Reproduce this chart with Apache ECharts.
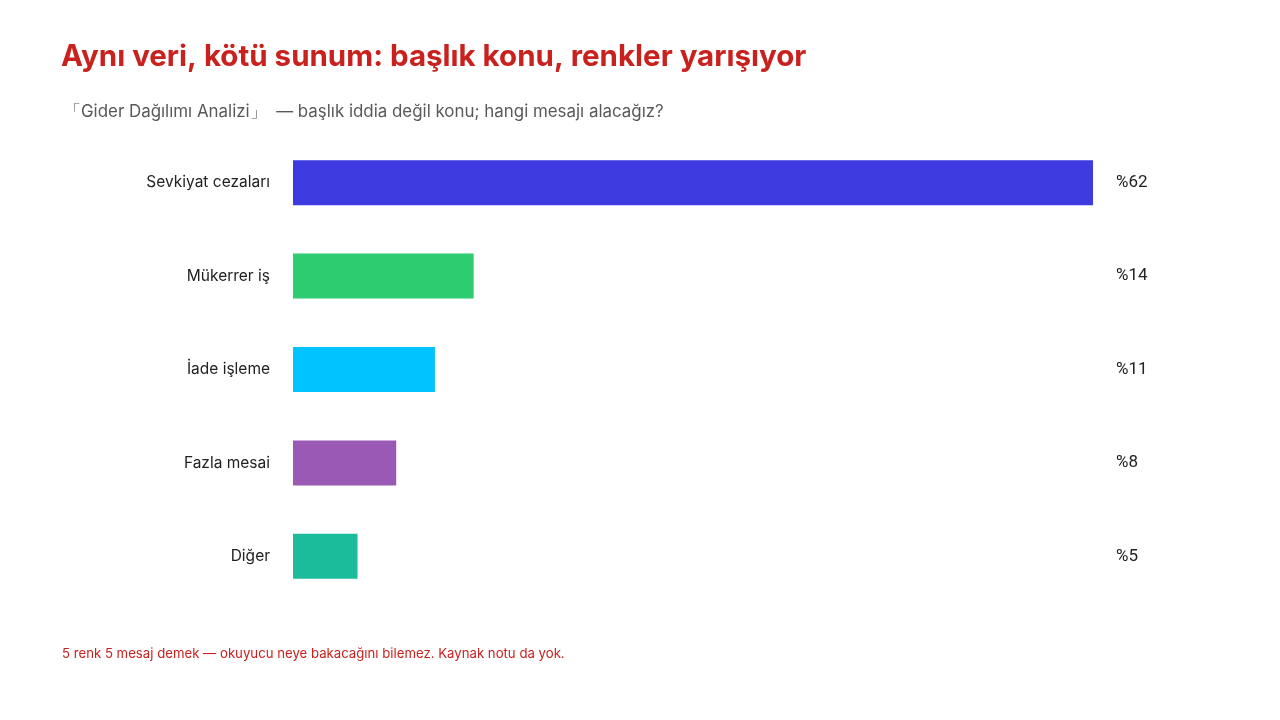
<!DOCTYPE html>
<html lang="tr">
<head>
    <meta charset="UTF-8">
    <title>Gider Dağılımı</title>
    <script src="https://cdn.jsdelivr.net/npm/echarts@6.0.0/dist/echarts.min.js"></script>
    <style>
        html, body { margin: 0; padding: 0; background: #fff; }
        #chart { width: 1280px; height: 720px; }
    </style>
</head>
<body>
    <div id="chart"></div>
    <script>
        // veriler
        const categories = ['Sevkiyat cezaları', 'Mükerrer iş', 'İade işleme', 'Fazla mesai', 'Diğer'];
        const values = [62, 14, 11, 8, 5];
        const barColors = ['#3D3BDF', '#2ECC71', '#00C3FF', '#9B59B6', '#1ABC9C'];

        const chart = echarts.init(document.getElementById('chart'));
        chart.setOption({
            animation: false,
            title: [
                {
                    text: 'Aynı veri, kötü sunum: başlık konu, renkler yarışıyor',
                    left: 61, top: 42, padding: 0,
                    textStyle: { fontFamily: 'Inter', fontSize: 29.5, fontWeight: 'bold', color: '#C9211E' }
                },
                {
                    text: '「Gider Dağılımı Analizi」  — başlık iddia değil konu; hangi mesajı alacağız?',
                    left: 64, top: 103, padding: 0,
                    textStyle: { fontFamily: 'Inter', fontSize: 16.9, fontWeight: 'normal', color: '#595959' }
                },
                {
                    text: '5 renk 5 mesaj demek — okuyucu neye bakacağını bilemez. Kaynak notu da yok.',
                    left: 62, top: 648, padding: 0,
                    textStyle: { fontFamily: 'Inter', fontSize: 13.2, fontWeight: 'normal', color: '#C9211E' }
                }
            ],
            grid: { left: 293, right: 187, top: 136, bottom: 117 },
            xAxis: {
                type: 'value', min: 0, max: 62,
                show: false
            },
            yAxis: [
                {
                    type: 'category', data: categories, inverse: true,
                    axisLine: { show: false }, axisTick: { show: false },
                    axisLabel: { margin: 23, fontFamily: 'Inter', fontSize: 15.5, color: '#222' }
                },
                {
                    type: 'category', data: values.map(v => '%' + v), inverse: true,
                    position: 'right',
                    axisLine: { show: false }, axisTick: { show: false },
                    axisLabel: { margin: 23, fontFamily: 'Roboto', fontSize: 17, color: '#222', padding: [0, 0, 3, 0] }
                }
            ],
            series: [{
                type: 'bar',
                data: values.map((v, i) => ({ value: v, itemStyle: { color: barColors[i] } })),
                barWidth: 45
            }]
        });
    </script>
</body>
</html>
